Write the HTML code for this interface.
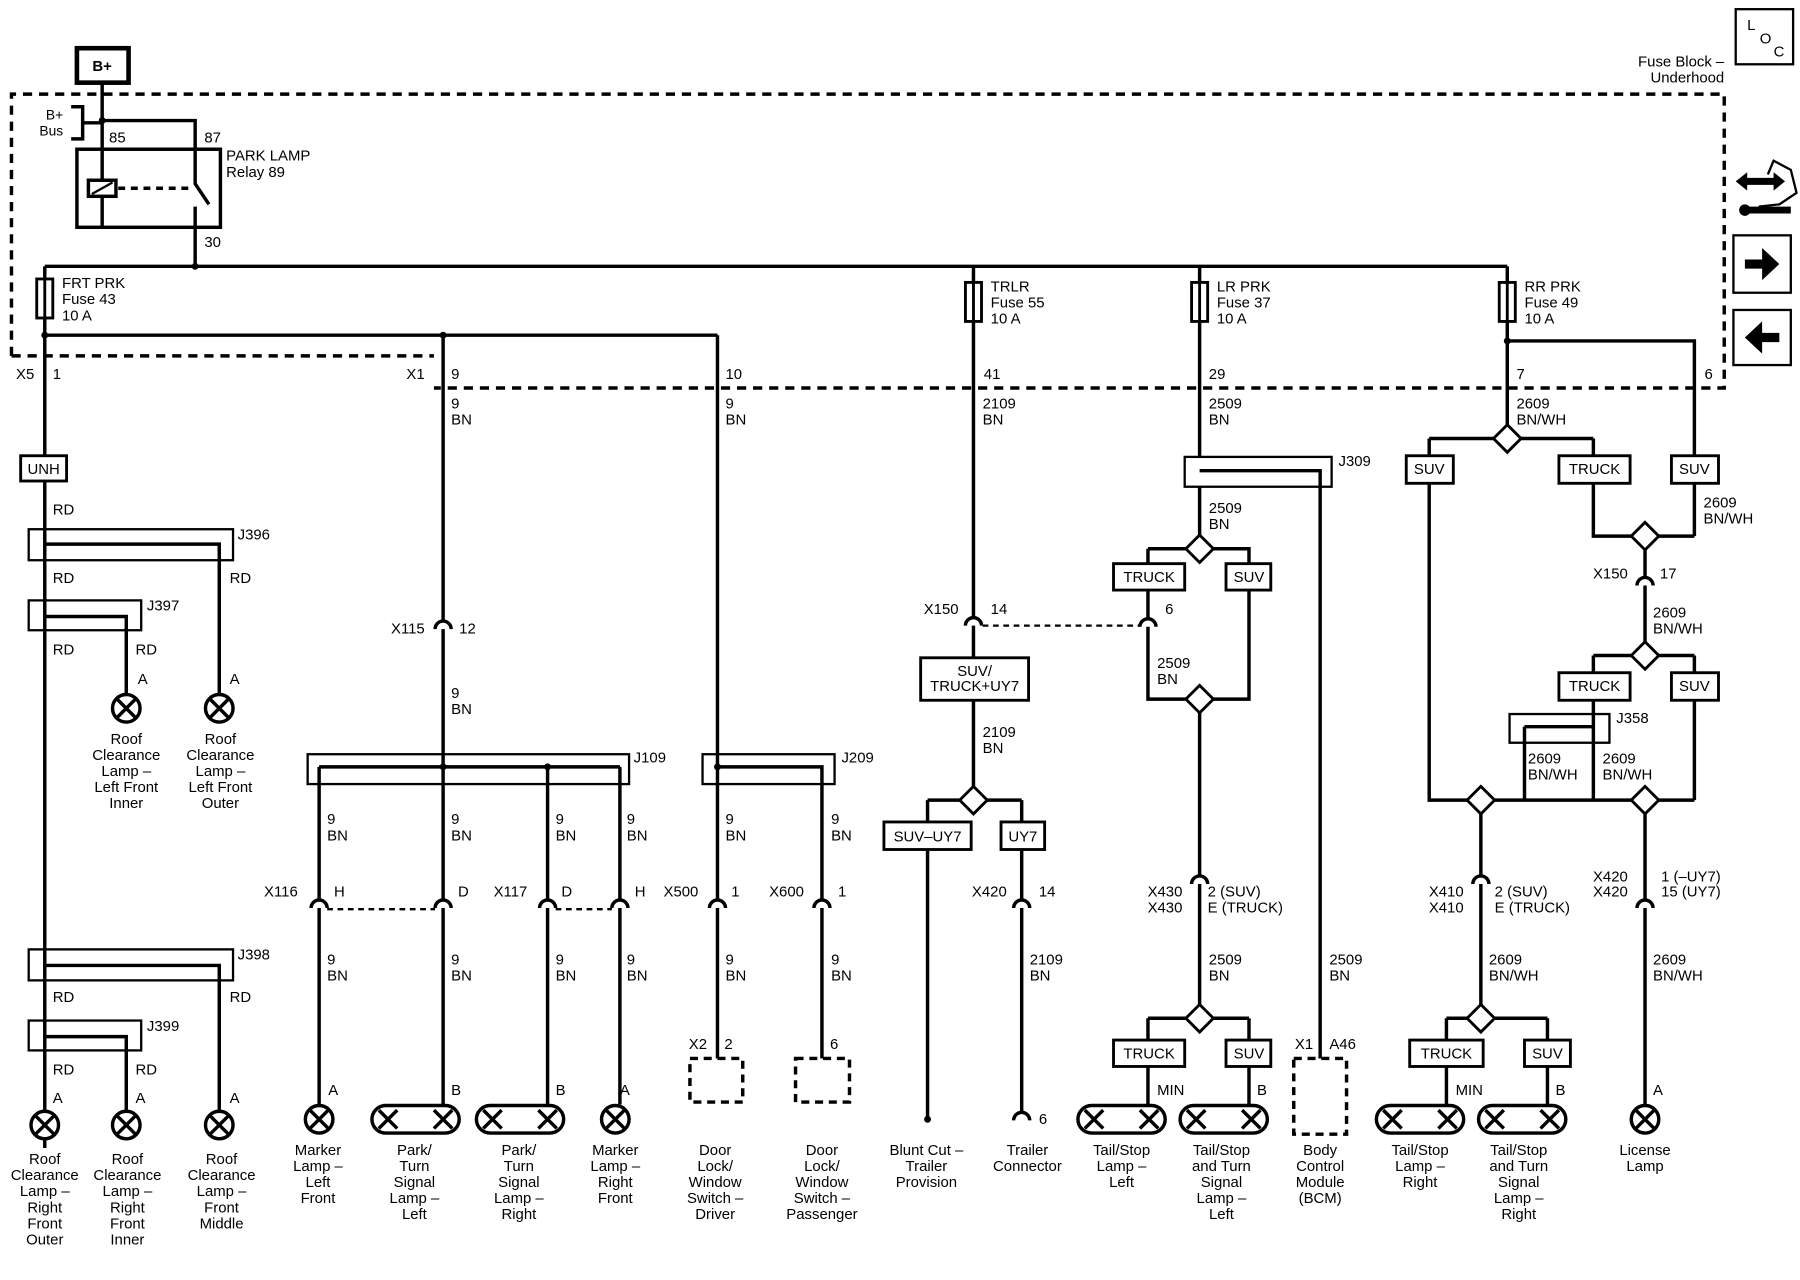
<!DOCTYPE html>
<html><head><meta charset="utf-8"><style>
html,body{margin:0;padding:0;background:#fff;}
svg{display:block;}
text{font-family:"Liberation Sans",sans-serif;font-size:13px;fill:#000;}
.m{text-anchor:middle;}
.r{text-anchor:end;}
.w{stroke:#000;stroke-width:3;fill:none;}
.t{stroke:#000;stroke-width:2;fill:none;}
.bx{stroke:#000;stroke-width:2.5;fill:#fff;}
.d{stroke:#000;stroke-width:3;fill:none;stroke-dasharray:8 6;}
</style></head><body>
<svg width="1800" height="1280" viewBox="0 0 1568 1115" preserveAspectRatio="none" xmlns="http://www.w3.org/2000/svg">
<defs>
<g id="lamp"><circle r="12" fill="#fff" stroke="#000" stroke-width="3"/><path d="M-8,-8L8,8M8,-8L-8,8" stroke="#000" stroke-width="3"/></g>
<path id="cn" d="M-7,7 A7,7 0 0 1 7,7" fill="#fff" stroke="#000" stroke-width="3"/>
<path id="dm" d="M0,-12L12,0L0,12L-12,0Z" fill="#fff" stroke="#000" stroke-width="2.5"/>
<g id="fuse"><rect x="-7" y="0" width="14" height="34" fill="#fff" stroke="#000" stroke-width="2.5"/><line x1="0" y1="-2" x2="0" y2="36" stroke="#000" stroke-width="2.5"/></g>
<g id="cap"><rect x="-38" y="-12" width="76" height="24" rx="12" fill="#fff" stroke="#000" stroke-width="3"/><path d="M-32,-8L-16,8M-16,-8L-32,8M16,-8L32,8M32,-8L16,8" stroke="#000" stroke-width="3"/></g>
</defs>

<!-- top -->
<rect x="67" y="42" width="45" height="30" fill="#fff" stroke="#000" stroke-width="4"/>
<text x="89" y="62" class="m" style="font-weight:bold">B+</text>
<rect x="1512" y="8" width="50" height="48" class="t"/>
<text x="1522" y="26">L</text><text x="1533" y="38">O</text><text x="1545" y="49">C</text>
<text x="1502" y="58" class="r">Fuse Block –</text>
<text x="1502" y="72" class="r">Underhood</text>
<path d="M10,310 L10,82 L1502,82 L1502,338 L378,338" class="d"/>
<path d="M10,310 L378,310" class="d"/>
<!-- icons -->
<path d="M1512,158 L1522,150 L1522,155 L1545,155 L1545,150 L1555,158 L1545,166 L1545,161 L1522,161 L1522,166Z" fill="#000"/>
<path d="M1540,152 L1545,140 L1560,148 L1565,168 L1550,178 L1532,180" class="t"/>
<path d="M1518,183 L1560,183" stroke="#000" stroke-width="6"/><circle cx="1520" cy="183" r="5" fill="#000"/>
<rect x="1510" y="205" width="50" height="50" class="t"/>
<path d="M1520,226 L1535,226 L1535,216 L1550,230 L1535,244 L1535,234 L1520,234Z" fill="#000"/>
<rect x="1510" y="270" width="50" height="48" class="t"/>
<path d="M1550,290 L1535,290 L1535,280 L1520,294 L1535,308 L1535,298 L1550,298Z" fill="#000"/>

<!-- relay -->
<path d="M89,72 L89,198 M89,105 L170,105 L170,160 L182,178 M170,180 L170,232" class="w"/>
<circle cx="89" cy="105" r="3"/>
<path d="M62,93 L72,93 L72,121 L62,121 M72,107 L89,107" class="w"/>
<text x="55" y="104" class="r" style="font-size:12px">B+</text><text x="55" y="118" class="r" style="font-size:12px">Bus</text>
<rect x="67" y="130" width="125" height="68" class="w"/>
<rect x="77" y="157" width="24" height="14" fill="#fff" stroke="#000" stroke-width="3"/><path d="M80,169 L98,159" class="t"/>
<path d="M103,164 L168,164" class="d" style="stroke-dasharray:6 5"/>
<text x="95" y="124">85</text><text x="178" y="124">87</text><text x="178" y="215">30</text>
<text x="197" y="140">PARK LAMP</text><text x="197" y="154">Relay 89</text>

<!-- bus -->
<path d="M39,232 L1313,232 M39,232 L39,1000 M39,292 L625,292 M386,292 L386,975 M625,292 L625,922 M848,232 L848,573 M1045,232 L1045,398 M1313,232 L1313,370 M1313,297 L1476,297 L1476,397" class="w"/>
<circle cx="170" cy="232" r="3"/><circle cx="39" cy="292" r="3"/><circle cx="386" cy="292" r="3"/><circle cx="1313" cy="297" r="3"/>
<use href="#fuse" x="39" y="243"/><use href="#fuse" x="848" y="246"/><use href="#fuse" x="1045" y="246"/><use href="#fuse" x="1313" y="246"/>
<text x="54" y="251">FRT PRK</text><text x="54" y="265">Fuse 43</text><text x="54" y="279">10 A</text>
<text x="863" y="254">TRLR</text><text x="863" y="268">Fuse 55</text><text x="863" y="282">10 A</text>
<text x="1060" y="254">LR PRK</text><text x="1060" y="268">Fuse 37</text><text x="1060" y="282">10 A</text>
<text x="1328" y="254">RR PRK</text><text x="1328" y="268">Fuse 49</text><text x="1328" y="282">10 A</text>
<text x="14" y="330">X5</text><text x="46" y="330">1</text><text x="354" y="330">X1</text><text x="393" y="330">9</text>
<text x="632" y="330">10</text><text x="857" y="330">41</text><text x="1053" y="330">29</text><text x="1321" y="330">7</text><text x="1492" y="330" class="r">6</text>

<!-- column A -->
<rect x="18" y="397" width="40" height="22" class="bx"/><text x="38" y="413" class="m">UNH</text>
<text x="46" y="448">RD</text>
<rect x="25" y="461" width="178" height="27" class="t"/><path d="M39,474 L191,474 L191,605" class="w"/><text x="207" y="470">J396</text>
<text x="46" y="508">RD</text><text x="200" y="508">RD</text>
<rect x="25" y="523" width="98" height="26" class="t"/><path d="M39,537 L110,537 L110,605" class="w"/><text x="128" y="532">J397</text>
<text x="46" y="570">RD</text><text x="118" y="570">RD</text><text x="120" y="596">A</text><text x="200" y="596">A</text>
<use href="#lamp" x="110" y="617"/><use href="#lamp" x="191" y="617"/>
<text class="m" x="110" y="648">Roof<tspan x="110" dy="14">Clearance</tspan><tspan x="110" dy="14">Lamp –</tspan><tspan x="110" dy="14">Left Front</tspan><tspan x="110" dy="14">Inner</tspan></text>
<text class="m" x="192" y="648">Roof<tspan x="192" dy="14">Clearance</tspan><tspan x="192" dy="14">Lamp –</tspan><tspan x="192" dy="14">Left Front</tspan><tspan x="192" dy="14">Outer</tspan></text>
<rect x="25" y="827" width="178" height="27" class="t"/><path d="M39,841 L191,841 L191,968" class="w"/><text x="207" y="836">J398</text>
<text x="46" y="873">RD</text><text x="200" y="873">RD</text>
<rect x="25" y="889" width="98" height="26" class="t"/><path d="M39,903 L110,903 L110,968" class="w"/><text x="128" y="898">J399</text>
<text x="46" y="936">RD</text><text x="118" y="936">RD</text><text x="46" y="961">A</text><text x="118" y="961">A</text><text x="200" y="961">A</text>
<use href="#lamp" x="39" y="980"/><use href="#lamp" x="110" y="980"/><use href="#lamp" x="191" y="980"/>
<text class="m" x="39" y="1014">Roof<tspan x="39" dy="14">Clearance</tspan><tspan x="39" dy="14">Lamp –</tspan><tspan x="39" dy="14">Right</tspan><tspan x="39" dy="14">Front</tspan><tspan x="39" dy="14">Outer</tspan></text>
<text class="m" x="111" y="1014">Roof<tspan x="111" dy="14">Clearance</tspan><tspan x="111" dy="14">Lamp –</tspan><tspan x="111" dy="14">Right</tspan><tspan x="111" dy="14">Front</tspan><tspan x="111" dy="14">Inner</tspan></text>
<text class="m" x="193" y="1014">Roof<tspan x="193" dy="14">Clearance</tspan><tspan x="193" dy="14">Lamp –</tspan><tspan x="193" dy="14">Front</tspan><tspan x="193" dy="14">Middle</tspan></text>

<!-- column 386 -->
<text x="393" y="356">9</text><text x="393" y="370">BN</text>
<use href="#cn" x="386" y="541"/><text x="370" y="552" class="r">X115</text><text x="400" y="552">12</text>
<text x="393" y="608">9</text><text x="393" y="622">BN</text>
<rect x="268" y="657" width="280" height="26" class="t"/><path d="M278,668 L540,668 M278,668 L278,962 M477,668 L477,962 M540,668 L540,962" class="w"/>
<circle cx="386" cy="668" r="3"/><circle cx="477" cy="668" r="3"/><text x="552" y="664">J109</text>
<text x="285" y="718">9</text><text x="285" y="732">BN</text><text x="393" y="718">9</text><text x="393" y="732">BN</text>
<text x="484" y="718">9</text><text x="484" y="732">BN</text><text x="546" y="718">9</text><text x="546" y="732">BN</text>
<use href="#cn" x="278" y="784"/><use href="#cn" x="386" y="784"/><use href="#cn" x="477" y="784"/><use href="#cn" x="540" y="784"/>
<path d="M285,792 L379,792 M484,792 L533,792" class="d" style="stroke-width:2;stroke-dasharray:5 4"/>
<text x="230" y="781">X116</text><text x="291" y="781">H</text><text x="399" y="781">D</text><text x="430" y="781">X117</text><text x="489" y="781">D</text><text x="553" y="781">H</text>
<text x="285" y="840">9</text><text x="285" y="854">BN</text><text x="393" y="840">9</text><text x="393" y="854">BN</text>
<text x="484" y="840">9</text><text x="484" y="854">BN</text><text x="546" y="840">9</text><text x="546" y="854">BN</text>
<text x="286" y="954">A</text><text x="393" y="954">B</text><text x="484" y="954">B</text><text x="540" y="954">A</text>
<use href="#lamp" x="278" y="975"/><use href="#cap" x="362" y="975"/><use href="#cap" x="453" y="975"/><use href="#lamp" x="536" y="975"/>
<text class="m" x="277" y="1006">Marker<tspan x="277" dy="14">Lamp –</tspan><tspan x="277" dy="14">Left</tspan><tspan x="277" dy="14">Front</tspan></text>
<text class="m" x="361" y="1006">Park/<tspan x="361" dy="14">Turn</tspan><tspan x="361" dy="14">Signal</tspan><tspan x="361" dy="14">Lamp –</tspan><tspan x="361" dy="14">Left</tspan></text>
<text class="m" x="452" y="1006">Park/<tspan x="452" dy="14">Turn</tspan><tspan x="452" dy="14">Signal</tspan><tspan x="452" dy="14">Lamp –</tspan><tspan x="452" dy="14">Right</tspan></text>
<text class="m" x="536" y="1006">Marker<tspan x="536" dy="14">Lamp –</tspan><tspan x="536" dy="14">Right</tspan><tspan x="536" dy="14">Front</tspan></text>

<!-- column 625 -->
<text x="632" y="356">9</text><text x="632" y="370">BN</text>
<rect x="612" y="657" width="115" height="26" class="t"/><path d="M625,668 L716,668 L716,922" class="w"/><circle cx="625" cy="668" r="3"/><text x="733" y="664">J209</text>
<text x="632" y="718">9</text><text x="632" y="732">BN</text><text x="724" y="718">9</text><text x="724" y="732">BN</text>
<use href="#cn" x="625" y="784"/><use href="#cn" x="716" y="784"/>
<text x="578" y="781">X500</text><text x="637" y="781">1</text><text x="670" y="781">X600</text><text x="730" y="781">1</text>
<text x="632" y="840">9</text><text x="632" y="854">BN</text><text x="724" y="840">9</text><text x="724" y="854">BN</text>
<text x="600" y="914">X2</text><text x="631" y="914">2</text><text x="723" y="914">6</text>
<rect x="601" y="922" width="46" height="38" class="d" style="stroke-dasharray:7 5"/>
<rect x="693" y="922" width="47" height="38" class="d" style="stroke-dasharray:7 5"/>
<text class="m" x="623" y="1006">Door<tspan x="623" dy="14">Lock/</tspan><tspan x="623" dy="14">Window</tspan><tspan x="623" dy="14">Switch –</tspan><tspan x="623" dy="14">Driver</tspan></text>
<text class="m" x="716" y="1006">Door<tspan x="716" dy="14">Lock/</tspan><tspan x="716" dy="14">Window</tspan><tspan x="716" dy="14">Switch –</tspan><tspan x="716" dy="14">Passenger</tspan></text>

<!-- column 848 -->
<text x="856" y="356">2109</text><text x="856" y="370">BN</text>
<use href="#cn" x="848" y="538"/><text x="835" y="535" class="r">X150</text><text x="863" y="535">14</text>
<path d="M856,545 L993,545" class="d" style="stroke-width:2;stroke-dasharray:5 4"/>
<rect x="802" y="573" width="94" height="37" class="bx"/><text class="m" x="849" y="589">SUV/<tspan x="849" dy="13">TRUCK+UY7</tspan></text>
<path d="M848,610 L848,697 M808,697 L890,697 M808,697 L808,716 M890,697 L890,716 M808,740 L808,975 M890,740 L890,975" class="w"/>
<circle cx="808" cy="975" r="3"/>
<text x="856" y="642">2109</text><text x="856" y="656">BN</text>
<use href="#dm" x="848" y="697"/>
<rect x="770" y="716" width="76" height="24" class="bx"/><text x="808" y="733" class="m">SUV–UY7</text>
<rect x="872" y="716" width="38" height="24" class="bx"/><text x="891" y="733" class="m">UY7</text>
<use href="#cn" x="890" y="784"/><text x="877" y="781" class="r">X420</text><text x="905" y="781">14</text>
<text x="897" y="840">2109</text><text x="897" y="854">BN</text>
<use href="#cn" x="890" y="969"/><text x="905" y="979">6</text>
<text class="m" x="807" y="1006">Blunt Cut –<tspan x="807" dy="14">Trailer</tspan><tspan x="807" dy="14">Provision</tspan></text>
<text class="m" x="895" y="1006">Trailer<tspan x="895" dy="14">Connector</tspan></text>

<!-- column 1045 -->
<text x="1053" y="356">2509</text><text x="1053" y="370">BN</text>
<rect x="1032" y="398" width="128" height="26" class="t"/><path d="M1045,410 L1150,410 L1150,922 M1045,424 L1045,478 M1000,478 L1088,478 L1088,491 M1000,478 L1000,491 M1000,514 L1000,609 L1088,609 L1088,514 M1045,609 L1045,887 M1000,887 L1088,887 M1000,887 L1000,906 M1088,887 L1088,906 M1000,929 L1000,963 M1088,929 L1088,963" class="w"/>
<text x="1166" y="406">J309</text>
<text x="1053" y="447">2509</text><text x="1053" y="461">BN</text>
<use href="#dm" x="1045" y="478"/>
<rect x="970" y="491" width="62" height="23" class="bx"/><text x="1001" y="507" class="m">TRUCK</text>
<rect x="1068" y="491" width="39" height="23" class="bx"/><text x="1088" y="507" class="m">SUV</text>
<use href="#cn" x="1000" y="539"/><text x="1015" y="535">6</text>
<text x="1008" y="582">2509</text><text x="1008" y="596">BN</text>
<use href="#dm" x="1045" y="609"/>
<use href="#cn" x="1045" y="763"/><text x="1030" y="781" class="r">X430</text><text x="1030" y="795" class="r">X430</text><text x="1052" y="781">2 (SUV)</text><text x="1052" y="795">E (TRUCK)</text>
<text x="1053" y="840">2509</text><text x="1053" y="854">BN</text>
<text x="1158" y="840">2509</text><text x="1158" y="854">BN</text>
<use href="#dm" x="1045" y="887"/>
<rect x="970" y="906" width="62" height="23" class="bx"/><text x="1001" y="922" class="m">TRUCK</text>
<rect x="1068" y="906" width="39" height="23" class="bx"/><text x="1088" y="922" class="m">SUV</text>
<text x="1008" y="954">MIN</text><text x="1095" y="954">B</text>
<use href="#cap" x="977" y="975"/><use href="#cap" x="1066" y="975"/>
<text x="1128" y="914">X1</text><text x="1158" y="914">A46</text>
<rect x="1127" y="922" width="46" height="66" class="d" style="stroke-dasharray:7 5"/>
<text class="m" x="977" y="1006">Tail/Stop<tspan x="977" dy="14">Lamp –</tspan><tspan x="977" dy="14">Left</tspan></text>
<text class="m" x="1064" y="1006">Tail/Stop<tspan x="1064" dy="14">and Turn</tspan><tspan x="1064" dy="14">Signal</tspan><tspan x="1064" dy="14">Lamp –</tspan><tspan x="1064" dy="14">Left</tspan></text>
<text class="m" x="1150" y="1006">Body<tspan x="1150" dy="14">Control</tspan><tspan x="1150" dy="14">Module</tspan><tspan x="1150" dy="14">(BCM)</tspan></text>

<!-- column RR -->
<path d="M1245,382 L1388,382 M1245,382 L1245,397 M1388,382 L1388,397 M1245,421 L1245,697 L1476,697 M1388,421 L1388,467 L1476,467 M1476,421 L1476,467 M1433,467 L1433,571 M1388,571 L1476,571 M1388,571 L1388,586 M1476,571 L1476,586 M1388,610 L1388,697 M1476,610 L1476,697 M1328,633 L1388,633 M1328,633 L1328,697 M1290,697 L1290,887 M1433,697 L1433,963 M1260,887 L1348,887 M1260,887 L1260,906 M1348,887 L1348,906 M1260,929 L1260,963 M1348,929 L1348,963" class="w"/>
<text x="1321" y="356">2609</text><text x="1321" y="370">BN/WH</text>
<use href="#dm" x="1313" y="382"/>
<rect x="1225" y="397" width="41" height="24" class="bx"/><text x="1245" y="413" class="m">SUV</text>
<rect x="1358" y="397" width="62" height="24" class="bx"/><text x="1389" y="413" class="m">TRUCK</text>
<rect x="1456" y="397" width="41" height="24" class="bx"/><text x="1476" y="413" class="m">SUV</text>
<text x="1484" y="442">2609</text><text x="1484" y="456">BN/WH</text>
<use href="#dm" x="1433" y="467"/>
<use href="#cn" x="1433" y="503"/><text x="1418" y="504" class="r">X150</text><text x="1446" y="504">17</text>
<text x="1440" y="538">2609</text><text x="1440" y="552">BN/WH</text>
<use href="#dm" x="1433" y="571"/>
<rect x="1358" y="586" width="62" height="24" class="bx"/><text x="1389" y="602" class="m">TRUCK</text>
<rect x="1456" y="586" width="41" height="24" class="bx"/><text x="1476" y="602" class="m">SUV</text>
<rect x="1315" y="622" width="87" height="25" class="t"/><text x="1408" y="630">J358</text>
<text x="1331" y="665">2609</text><text x="1331" y="679">BN/WH</text><text x="1396" y="665">2609</text><text x="1396" y="679">BN/WH</text>
<use href="#dm" x="1290" y="697"/><use href="#dm" x="1433" y="697"/>
<use href="#cn" x="1290" y="763"/><text x="1275" y="781" class="r">X410</text><text x="1275" y="795" class="r">X410</text><text x="1302" y="781">2 (SUV)</text><text x="1302" y="795">E (TRUCK)</text>
<use href="#cn" x="1433" y="784"/><text x="1418" y="768" class="r">X420</text><text x="1418" y="781" class="r">X420</text><text x="1447" y="768">1 (–UY7)</text><text x="1447" y="781">15 (UY7)</text>
<text x="1297" y="840">2609</text><text x="1297" y="854">BN/WH</text>
<text x="1440" y="840">2609</text><text x="1440" y="854">BN/WH</text>
<use href="#dm" x="1290" y="887"/>
<rect x="1228" y="906" width="64" height="23" class="bx"/><text x="1260" y="922" class="m">TRUCK</text>
<rect x="1328" y="906" width="40" height="23" class="bx"/><text x="1348" y="922" class="m">SUV</text>
<text x="1268" y="954">MIN</text><text x="1355" y="954">B</text><text x="1440" y="954">A</text>
<use href="#cap" x="1237" y="975"/><use href="#cap" x="1326" y="975"/><use href="#lamp" x="1433" y="975"/>
<text class="m" x="1237" y="1006">Tail/Stop<tspan x="1237" dy="14">Lamp –</tspan><tspan x="1237" dy="14">Right</tspan></text>
<text class="m" x="1323" y="1006">Tail/Stop<tspan x="1323" dy="14">and Turn</tspan><tspan x="1323" dy="14">Signal</tspan><tspan x="1323" dy="14">Lamp –</tspan><tspan x="1323" dy="14">Right</tspan></text>
<text class="m" x="1433" y="1006">License<tspan x="1433" dy="14">Lamp</tspan></text>
</svg>
</body></html>
